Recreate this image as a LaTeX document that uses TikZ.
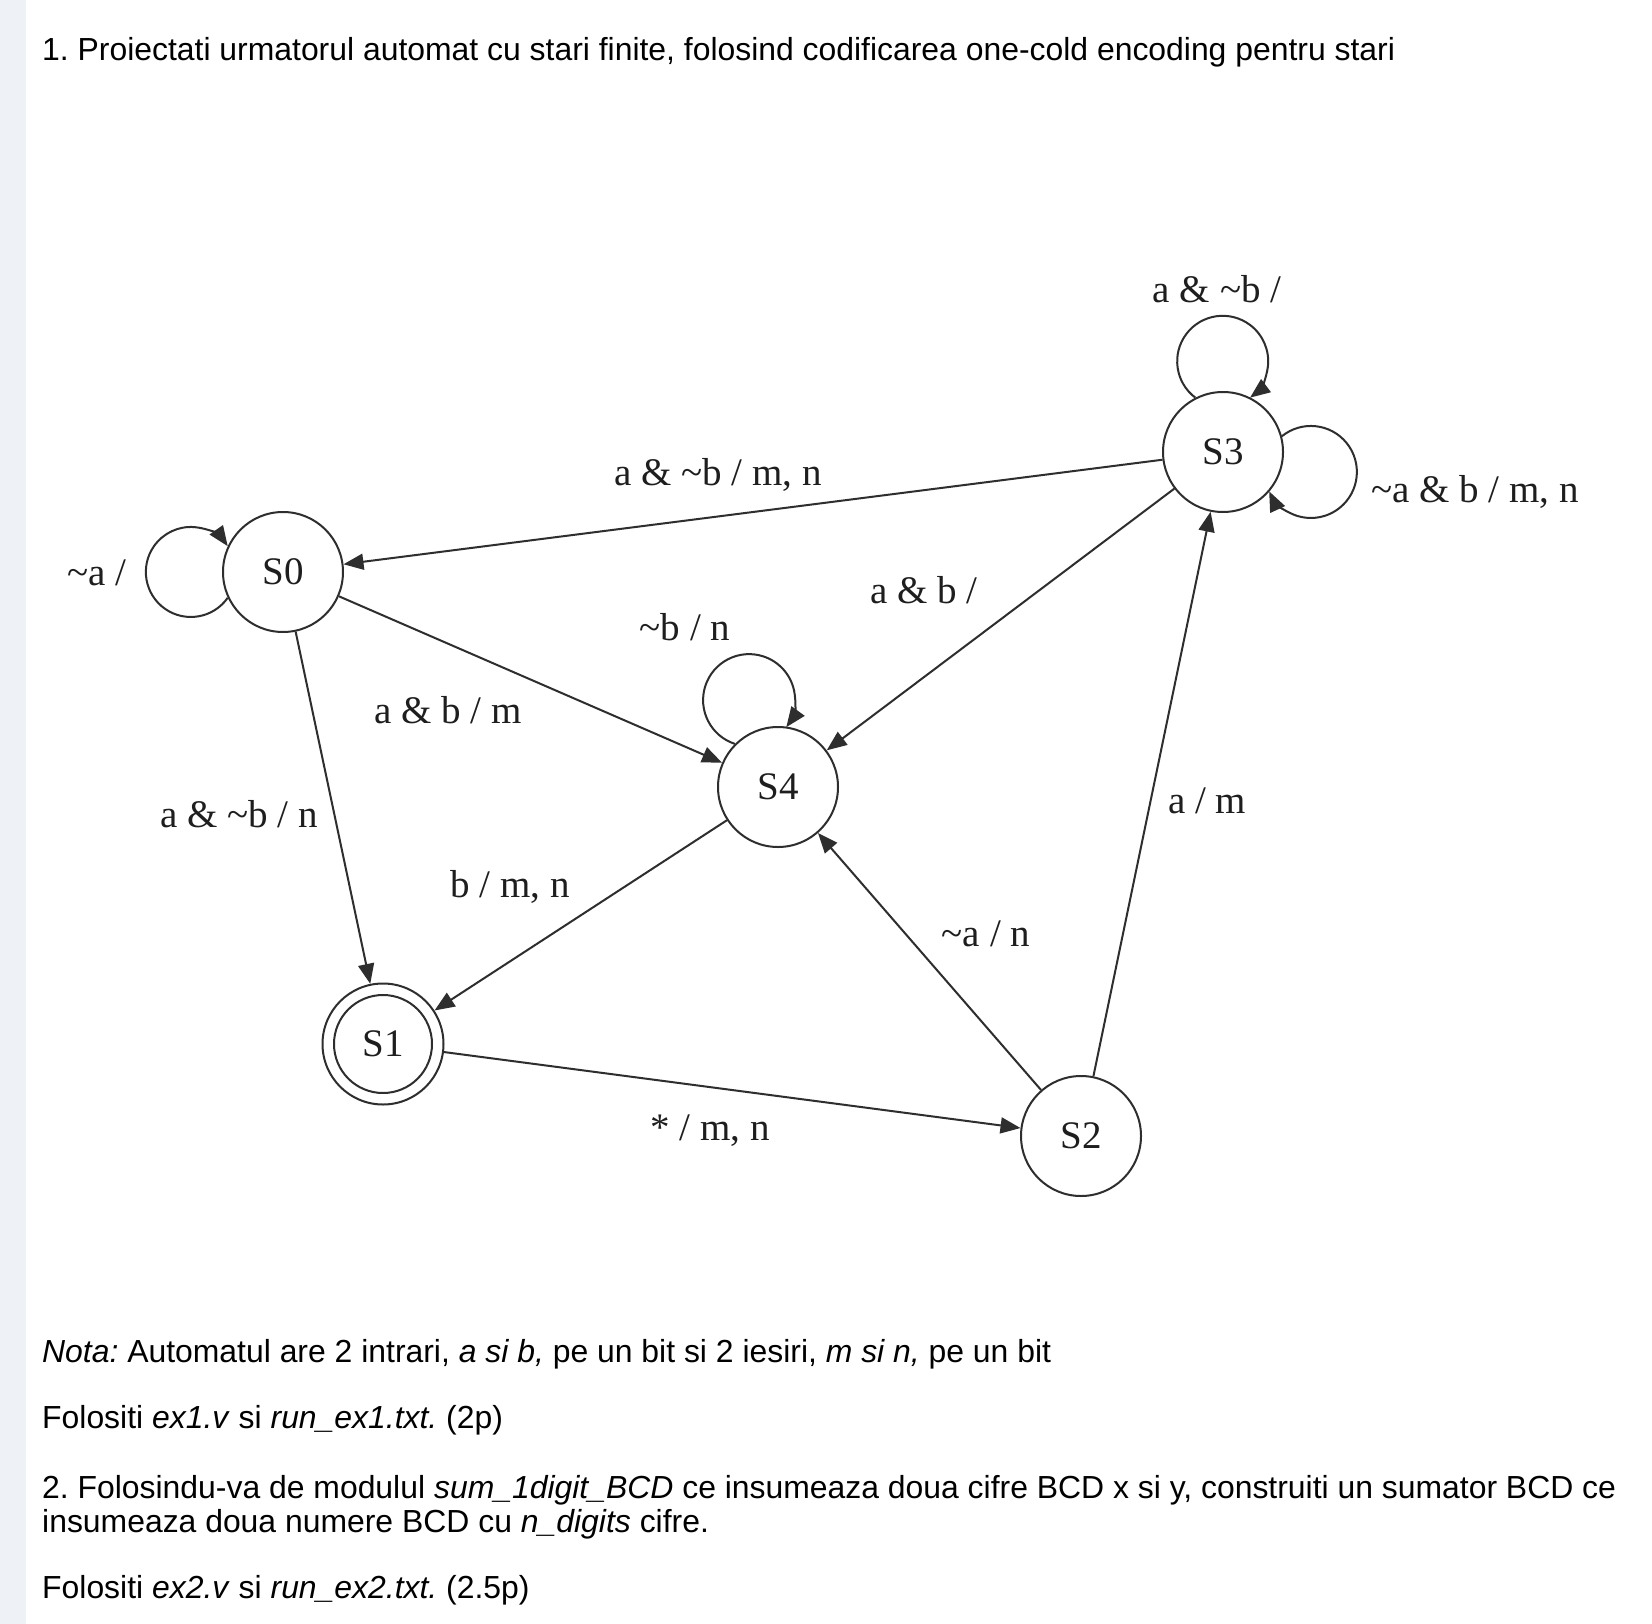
\documentclass[tikz,border=0pt]{standalone}
\usepackage{fontspec}
\setmainfont{Liberation Serif}
\newfontfamily\parafont{Liberation Sans}
\usetikzlibrary{arrows.meta}
\definecolor{linecol}{HTML}{2E2E2E}
\definecolor{txtcol}{HTML}{1E1E1E}
\definecolor{stripcol}{HTML}{EEF1F5}
\frenchspacing
\begin{document}
\begin{tikzpicture}[x=1pt,y=1pt,
  stateline/.style={draw=linecol, line width=2pt},
  statenode/.style={circle, stateline, minimum size=120pt, inner sep=0pt, outer sep=1pt, font=\fontsize{39}{47}\selectfont, text=txtcol},
  trans/.style={draw=linecol, line width=2pt, -{Triangle[length=20pt,width=16pt]}},
  lbl/.style={anchor=base, inner sep=0pt, font=\fontsize{39}{47}\selectfont, text=txtcol},
  para/.style={anchor=base west, inner sep=0pt, font=\parafont\fontsize{31.9}{38}\selectfont, text=black}]
\useasboundingbox (0,0) rectangle (1652,-1624);
\fill[white] (0,0) rectangle (1652,-1624);
\fill[stripcol] (0,0) rectangle (26,-1624);

% paragraph text
\node[para] (t1) at (42,-61) {1. Proiectati urmatorul automat cu stari finite, folosind codificarea one-cold encoding pentru stari};
\node[para] (t2) at (42,-1362) {\textit{Nota:} Automatul are 2 intrari, \textit{a si b,} pe un bit si 2 iesiri, \textit{m si n,} pe un bit};
\node[para] (t3) at (42,-1428) {Folositi \textit{ex1.v} si \textit{run\_ex1.txt.} (2p)};
\node[para] (t4) at (42,-1498) {2. Folosindu-va de modulul \textit{sum\_1digit\_BCD} ce insumeaza doua cifre BCD x si y, construiti un sumator BCD ce};
\node[para] (t5) at (42,-1532) {insumeaza doua numere BCD cu \textit{n\_digits} cifre.};
\node[para] (t6) at (42,-1598) {Folositi \textit{ex2.v} si \textit{run\_ex2.txt.} (2.5p)};

% states
\node[statenode] (S0) at (283,-572) {S0};
\node[statenode, minimum size=121pt] (S1) at (383,-1044) {S1};
\draw[stateline] (S1.center) circle[radius=49pt];
\node[statenode] (S2) at (1081,-1136) {S2};
\node[statenode] (S3) at (1223,-452) {S3};
\node[statenode] (S4) at (778,-787) {S4};

% transitions
\draw[trans] (S3) -- (S0);
\draw[trans] (S0) -- (S4);
\draw[trans] (S0) -- (S1);
\draw[trans] (S4) -- (S1);
\draw[trans] (S1) -- (S2);
\draw[trans] (S2) -- (S4);
\draw[trans] (S2) -- (S3);
\draw[trans] (S3) -- (S4);

% self loops
\draw[trans] (S0.205) arc[start angle=-35, end angle=-325, radius=45pt];
\draw[trans] (S3.117) arc[start angle=233, end angle=-53, radius=45.5pt];
\draw[trans] (S3.15) arc[start angle=129, end angle=-155, radius=46pt];
\draw[trans] (S4.135) arc[start angle=252, end angle=-36, radius=46pt];

% labels
\node[lbl] (l1) at (1217,-302) {a \& \textasciitilde b /};
\node[lbl] (l2) at (1475,-502) {\textasciitilde a \& b / m, n};
\node[lbl] (l3) at (718,-485) {a \& \textasciitilde b / m, n};
\node[lbl] (l4) at (97,-585) {\textasciitilde a /};
\node[lbl] (l5) at (924,-603) {a \& b /};
\node[lbl] (l6) at (685,-640) {\textasciitilde b / n};
\node[lbl] (l7) at (448,-723) {a \& b / m};
\node[lbl] (l8) at (239,-827) {a \& \textasciitilde b / n};
\node[lbl] (l9) at (510,-897) {b / m, n};
\node[lbl] (l10) at (1207,-813) {a / m};
\node[lbl] (l11) at (986,-946) {\textasciitilde a / n};
\node[lbl] (l12) at (710,-1140) {* / m, n};
\end{tikzpicture}
\end{document}
